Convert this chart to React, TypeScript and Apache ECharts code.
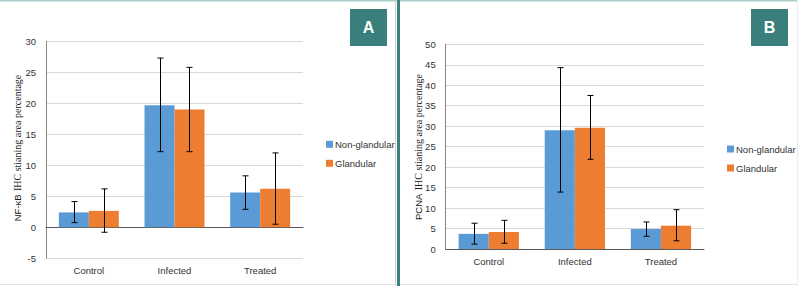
import React, { useEffect, useRef } from "react";
import * as echarts from "echarts";

const categories = ["Control", "Infected", "Treated"];
const seriesNames = ["Non-glandular", "Glandular"];

// Panel A: NF-κB
const nfkbNonGland = [2.4, 19.7, 5.6];
const nfkbNonGlandLow = [0.75, 12.2, 2.9];
const nfkbNonGlandHigh = [4.15, 27.3, 8.3];
const nfkbGland = [2.65, 19.0, 6.2];
const nfkbGlandLow = [-0.8, 12.2, 0.5];
const nfkbGlandHigh = [6.2, 25.8, 12.0];

// Panel B: PCNA
const pcnaNonGland = [3.7, 29.0, 4.9];
const pcnaNonGlandLow = [1.2, 13.9, 3.1];
const pcnaNonGlandHigh = [6.3, 44.3, 6.6];
const pcnaGland = [4.15, 29.6, 5.7];
const pcnaGlandLow = [1.4, 21.9, 2.0];
const pcnaGlandHigh = [7.0, 37.5, 9.6];

const BLUE = "#5B9BD5";
const ORANGE = "#ED7D31";
const TEAL = "#3b7f7c";
const SANS = "Liberation Sans, Arial, sans-serif";
const SERIF = "Liberation Serif, Times New Roman, serif";

function errData(low: number[], high: number[]) {
  return low.map((l, i) => [i, l, high[i]]);
}

function makeErrRender(side: number) {
  return (params: any, api: any) => {
    const idx = api.value(0);
    const lo = api.coord([idx, api.value(1)]);
    const hi = api.coord([idx, api.value(2)]);
    const band = api.size([1, 0])[0];
    const bw = (band * 0.7) / 2;
    const x = Math.round(lo[0] + (side * bw) / 2) + 0.5;
    const cap = 3;
    const st = { stroke: "#000", lineWidth: 1 };
    return {
      type: "group",
      children: [
        { type: "line", shape: { x1: x, y1: lo[1], x2: x, y2: hi[1] }, style: st },
        { type: "line", shape: { x1: x - cap, y1: lo[1], x2: x + cap, y2: lo[1] }, style: st },
        { type: "line", shape: { x1: x - cap, y1: hi[1], x2: x + cap, y2: hi[1] }, style: st },
      ],
    };
  };
}

function xAxisCfg(gi: number) {
  return {
    type: "category",
    gridIndex: gi,
    data: categories,
    axisLine: { onZero: true, lineStyle: { color: "#595959", width: 1 } },
    axisTick: { show: false },
    axisLabel: { color: "#333333", fontSize: 9.5, fontFamily: SANS, margin: 7 },
  };
}

function yAxisCfg(gi: number, min: number, max: number) {
  return {
    type: "value",
    gridIndex: gi,
    min,
    max,
    interval: 5,
    axisLine: { show: true, lineStyle: { color: "#868686", width: 1 } },
    axisTick: { show: false },
    splitLine: { show: true, lineStyle: { color: "#d9d9d9", width: 1 } },
    axisLabel: { color: "#333333", fontSize: 9.5, fontFamily: SANS, margin: 10 },
  };
}

function legendCfg(left: number, top: number) {
  return {
    left,
    top,
    orient: "vertical",
    icon: "rect",
    itemWidth: 7,
    itemHeight: 7,
    itemGap: 7,
    data: seriesNames,
    textStyle: {
      fontSize: 9.5,
      color: "#333333",
      fontFamily: SANS,
      lineHeight: 12,
      padding: [0, 0, 0, -3],
    },
  };
}

function barCfg(name: string, color: string, gi: number, data: number[]) {
  return {
    type: "bar",
    name,
    xAxisIndex: gi,
    yAxisIndex: gi,
    data,
    barGap: "0%",
    barCategoryGap: "30%",
    itemStyle: { color },
  };
}

function errCfg(gi: number, side: number, low: number[], high: number[]) {
  return {
    type: "custom",
    name: "err" + gi + side,
    xAxisIndex: gi,
    yAxisIndex: gi,
    z: 5,
    renderItem: makeErrRender(side),
    encode: { x: 0, y: [1, 2] },
    data: errData(low, high),
    silent: true,
  };
}

function yTitle(x: number, y: number, first: string, rest: string) {
  return {
    type: "text",
    x,
    y,
    rotation: Math.PI / 2,
    z: 10,
    style: {
      text: "{a|" + first + "} {b|" + rest + "}",
      rich: {
        a: { fontFamily: SANS, fontSize: 9.5, fill: "#1a1a1a" },
        b: { fontFamily: SERIF, fontSize: 10, fill: "#1a1a1a" },
      },
      fill: "#1a1a1a",
      align: "center",
      verticalAlign: "middle",
      textAlign: "center",
      textVerticalAlign: "middle",
    },
  };
}

function labelBox(x: number, y: number, letter: string) {
  return [
    { type: "rect", shape: { x, y, width: 37, height: 37 }, style: { fill: TEAL }, z: 10 },
    {
      type: "text",
      x: x + 18.5,
      y: y + 18.5,
      z: 11,
      style: {
        text: letter,
        fill: "#fff",
        fontSize: 16,
        fontWeight: "bold",
        fontFamily: SANS,
        align: "center",
        verticalAlign: "middle",
        textAlign: "center",
        textVerticalAlign: "middle",
      },
    },
  ];
}

export default function App() {
  const ref = useRef<HTMLDivElement>(null);
  useEffect(() => {
    if (!ref.current) return;
    const chart = echarts.init(ref.current, undefined, { renderer: "svg" });
    const option: any = {
      animation: false,
      backgroundColor: "#ffffff",
      grid: [
        { left: 46, top: 41.3, width: 257, height: 217 },
        { left: 445.7, top: 44.3, width: 258.3, height: 204.7 },
      ],
      xAxis: [xAxisCfg(0), xAxisCfg(1)],
      yAxis: [yAxisCfg(0, -5, 30), yAxisCfg(1, 0, 50)],
      legend: [legendCfg(321, 133.3), legendCfg(722, 138)],
      series: [
        barCfg(seriesNames[0], BLUE, 0, nfkbNonGland),
        barCfg(seriesNames[1], ORANGE, 0, nfkbGland),
        barCfg(seriesNames[0], BLUE, 1, pcnaNonGland),
        barCfg(seriesNames[1], ORANGE, 1, pcnaGland),
        errCfg(0, -1, nfkbNonGlandLow, nfkbNonGlandHigh),
        errCfg(0, 1, nfkbGlandLow, nfkbGlandHigh),
        errCfg(1, -1, pcnaNonGlandLow, pcnaNonGlandHigh),
        errCfg(1, 1, pcnaGlandLow, pcnaGlandHigh),
      ],
      graphic: [
        { type: "line", shape: { x1: 0, y1: 0.75, x2: 798, y2: 0.75 }, style: { stroke: "#a9cfcd", lineWidth: 1.5 }, z: 1 },
        { type: "line", shape: { x1: 395.5, y1: 0, x2: 395.5, y2: 286 }, style: { stroke: "#cfcfcf", lineWidth: 1 }, z: 1 },
        { type: "line", shape: { x1: 398.5, y1: 0, x2: 398.5, y2: 286 }, style: { stroke: "#3a8280", lineWidth: 3 }, z: 2 },
        { type: "line", shape: { x1: 0, y1: 284.5, x2: 798, y2: 284.5 }, style: { stroke: "#e3e3e3", lineWidth: 1 }, z: 1 },
        { type: "line", shape: { x1: 797.5, y1: 0, x2: 797.5, y2: 286 }, style: { stroke: "#ececec", lineWidth: 1 }, z: 1 },
        ...labelBox(350, 9, "A"),
        ...labelBox(751, 9, "B"),
        yTitle(17, 148, "NF-κB", "IHC stianing area percentage"),
        yTitle(418, 147, "PCNA", "IHC stianing area percentage"),
      ],
    };
    chart.setOption(option);
    return () => chart.dispose();
  }, []);
  return (
    <div
      ref={ref}
      style={{ position: "fixed", left: 0, top: 0, width: 798, height: 286 }}
    />
  );
}
